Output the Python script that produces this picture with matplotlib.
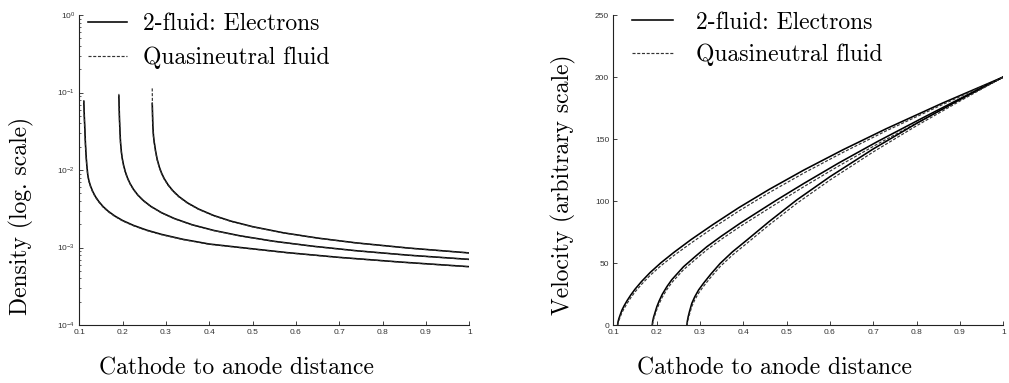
import matplotlib
matplotlib.use('Agg')
import matplotlib.pyplot as plt
from matplotlib.ticker import FixedLocator, FuncFormatter, LogLocator, NullFormatter

plt.rcParams['font.family'] = ['Liberation Sans', 'DejaVu Sans']
plt.rcParams['lines.scale_dashes'] = False

# density (log scale), three cathode positions
dens_x = [
    [0.1104, 0.1115, 0.1127, 0.1140, 0.1155, 0.1172, 0.1195, 0.122, 0.126, 0.131, 0.137, 0.145, 0.155,
     0.167, 0.182, 0.200, 0.225, 0.255, 0.290, 0.340, 0.400, 0.480, 0.580, 0.700, 0.840, 1.0],
    [0.1913, 0.1920, 0.1928, 0.1940, 0.1951, 0.1970, 0.199, 0.202, 0.206, 0.211, 0.217, 0.225, 0.235,
     0.248, 0.265, 0.290, 0.320, 0.360, 0.410, 0.470, 0.550, 0.640, 0.740, 0.860, 1.0],
    [0.2683, 0.2690, 0.2698, 0.2712, 0.2729, 0.276, 0.2798, 0.285, 0.2899, 0.296, 0.305, 0.316, 0.330,
     0.350, 0.375, 0.410, 0.450, 0.500, 0.570, 0.650, 0.740, 0.860, 1.0],
]
dens_electrons = [
    [0.0762, 0.0501, 0.0347, 0.0229, 0.01585, 0.01175, 0.00871, 0.00733, 0.00619, 0.00528, 0.00456,
     0.00392, 0.00337, 0.00293, 0.00255, 0.00223, 0.00193, 0.00168, 0.001476, 0.001274, 0.001109,
     0.000989, 0.000859, 0.000746, 0.000650, 0.000566],
    [0.0902, 0.0631, 0.0442, 0.0302, 0.0229, 0.01738, 0.01422, 0.01164, 0.00957, 0.00796, 0.00671,
     0.00564, 0.00476, 0.00403, 0.00340, 0.00281, 0.00236, 0.00197, 0.001663, 0.001419, 0.001202,
     0.001038, 0.000908, 0.000796, 0.000703],
    [0.0724, 0.0513, 0.0362, 0.0275, 0.0229, 0.01762, 0.01371, 0.01079, 0.00912, 0.00774, 0.00643,
     0.00540, 0.00454, 0.00376, 0.00314, 0.00259, 0.00219, 0.001858, 0.001552, 0.001324, 0.001146,
     0.000984, 0.000851],
]
dens_quasi = [
    [0.0800, 0.0490, 0.0338, 0.0222, 0.01540, 0.01140, 0.00850, 0.00716, 0.00606, 0.00518, 0.00448,
     0.00386, 0.00332, 0.00289, 0.00252, 0.00220, 0.00191, 0.00166, 0.001462, 0.001263, 0.001101,
     0.000983, 0.000855, 0.000743, 0.000648, 0.000564],
    [0.0960, 0.0620, 0.0432, 0.0295, 0.0224, 0.01700, 0.01395, 0.01143, 0.00941, 0.00784, 0.00662,
     0.00557, 0.00471, 0.00399, 0.00337, 0.00279, 0.00234, 0.00196, 0.001655, 0.001413, 0.001198,
     0.001035, 0.000906, 0.000795, 0.000702],
    [0.1130, 0.0520, 0.0355, 0.0268, 0.0223, 0.01720, 0.01340, 0.01058, 0.00896, 0.00762, 0.00634,
     0.00533, 0.00449, 0.00372, 0.00311, 0.00257, 0.00217, 0.001848, 0.001546, 0.001320, 0.001143,
     0.000982, 0.000850],
]

# velocity (arbitrary scale)
vel_x = [
    [0.110, 0.1105, 0.111, 0.113, 0.116, 0.120, 0.125, 0.132, 0.140, 0.150, 0.165, 0.185, 0.210, 0.240,
     0.280, 0.330, 0.390, 0.460, 0.540, 0.630, 0.730, 0.860, 1.0],
    [0.190, 0.1905, 0.191, 0.193, 0.196, 0.2006, 0.206, 0.213, 0.2237, 0.235, 0.2621, 0.290, 0.3158,
     0.350, 0.3926, 0.4771, 0.540, 0.620, 0.710, 0.810, 0.900, 1.0],
    [0.270, 0.2705, 0.271, 0.273, 0.276, 0.2813, 0.288, 0.297, 0.3081, 0.325, 0.3465, 0.375, 0.408,
     0.460, 0.5232, 0.600, 0.700, 0.800, 0.900, 1.0],
]
vel_electrons = [
    [0, 1.5, 2.6, 5.2, 8.2, 12.0, 15.5, 19.7, 24.0, 28.8, 35.0, 42.3, 50.2, 58.6, 69.0, 81.0, 94.7,
     109.4, 125.0, 141.3, 158.3, 179.0, 200],
    [0, 1.5, 3.0, 6.2, 9.6, 14.8, 19.5, 24.7, 30.9, 36.5, 47.0, 55.5, 63.1, 71.8, 82.0, 100.8, 114.2,
     130.6, 148.0, 166.3, 182.5, 200],
    [0, 1.8, 3.2, 6.8, 11.0, 17.5, 22.7, 28.3, 33.6, 41.0, 49.6, 59.0, 68.4, 83.5, 100.8, 119.6, 142.0,
     162.6, 181.8, 200],
]
vel_quasi = [
    [0, 0.5, 1.3, 3.6, 6.5, 10.0, 13.3, 17.5, 21.8, 26.6, 32.7, 40.0, 47.8, 56.1, 66.2, 78.3, 92.0,
     106.8, 122.6, 139.2, 156.6, 177.8, 200],
    [0, 0.5, 1.5, 4.5, 7.8, 12.6, 17.2, 22.4, 28.6, 34.2, 44.6, 53.0, 60.6, 69.3, 79.4, 98.0, 111.6,
     128.2, 146.0, 164.7, 181.5, 200],
    [0, 0.5, 1.5, 4.8, 8.8, 15.0, 20.2, 25.8, 31.1, 38.5, 47.1, 56.4, 65.8, 80.8, 98.0, 116.9, 139.6,
     160.7, 180.6, 200],
]

x_ticks = [0.1, 0.2, 0.3, 0.4, 0.5, 0.6, 0.7, 0.8, 0.9, 1.0]
vel_ticks = [0, 50, 100, 150, 200, 250]
legend_labels = ['2-fluid: Electrons', 'Quasineutral fluid']

SERIF = 'cmr10'
TXT = 17
DASH = (0, (2.2, 1.2))

fig = plt.figure(figsize=(10.09, 3.83), dpi=100)
ax1 = fig.add_axes([0.0786, 0.1514, 0.3865, 0.8094])
ax2 = fig.add_axes([0.6078, 0.1514, 0.3865, 0.8094])


def style_axes(ax):
    for side in ['top', 'right']:
        ax.spines[side].set_visible(False)
    for side in ['left', 'bottom']:
        ax.spines[side].set_linewidth(0.8)
        ax.spines[side].set_color('#222222')
    ax.tick_params(which='major', direction='in', length=3, width=0.6,
                   labelsize=6, colors='#222222', labelcolor='#333333')
    ax.tick_params(axis='x', pad=2.6)
    ax.tick_params(axis='y', pad=3)
    ax.tick_params(which='minor', direction='in', length=1.6, width=0.5, colors='#222222')
    ax.xaxis.set_major_locator(FixedLocator(x_ticks))
    ax.xaxis.set_major_formatter(FuncFormatter(lambda v, p: f'{v:g}'))
    ax.set_xlim(0.1, 1.0)
    ax.set_xlabel('Cathode to anode distance', fontfamily=SERIF, fontsize=TXT, va='center')


def draw_pair(ax, xs, solid, dashed):
    for i in range(len(xs)):
        ax.plot(xs[i], solid[i], color='black', lw=1.15,
                label=legend_labels[0] if i == 0 else None)
        ax.plot(xs[i], dashed[i], color='#333333', lw=0.85, linestyle=DASH,
                label=legend_labels[1] if i == 0 else None)


# left: density
draw_pair(ax1, dens_x, dens_electrons, dens_quasi)
ax1.set_yscale('log')
ax1.set_ylim(1e-4, 1)
ax1.yaxis.set_major_locator(LogLocator(base=10, numticks=10))
ax1.yaxis.set_minor_locator(LogLocator(base=10, subs=range(2, 10), numticks=50))
ax1.yaxis.set_minor_formatter(NullFormatter())
style_axes(ax1)
ax1.set_ylabel('Density (log. scale)', fontfamily=SERIF, fontsize=TXT, va='center')
ax1.yaxis.set_label_coords(-0.148, 0.352)
ax1.xaxis.set_label_coords(0.402, -0.139)
ax1.legend(loc='upper left', bbox_to_anchor=(0.023, 1.007), frameon=False,
           prop={'family': SERIF, 'size': TXT}, handlelength=1.63,
           handletextpad=0.70, borderaxespad=0, borderpad=0, labelspacing=0.5)

# right: velocity
draw_pair(ax2, vel_x, vel_electrons, vel_quasi)
ax2.set_ylim(0, 250)
ax2.yaxis.set_major_locator(FixedLocator(vel_ticks))
style_axes(ax2)
ax2.set_ylabel('Velocity (arbitrary scale)', fontfamily=SERIF, fontsize=TXT, va='center')
ax2.yaxis.set_label_coords(-0.128, 0.452)
ax2.xaxis.set_label_coords(0.413, -0.139)
ax2.legend(loc='upper left', bbox_to_anchor=(0.047, 1.011), frameon=False,
           prop={'family': SERIF, 'size': TXT}, handlelength=1.76,
           handletextpad=0.96, borderaxespad=0, borderpad=0, labelspacing=0.41)

fig.savefig('out.png', dpi=100)
